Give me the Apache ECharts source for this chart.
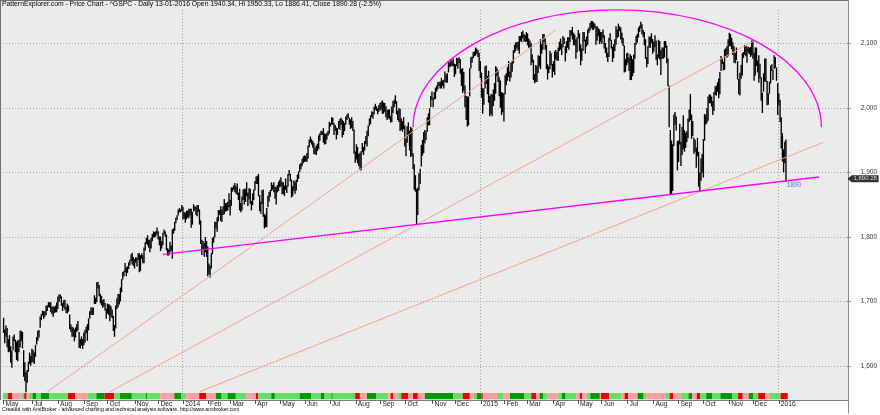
<!DOCTYPE html>
<html><head><meta charset="utf-8">
<script src="https://cdn.jsdelivr.net/npm/echarts@6/dist/echarts.min.js"></script>
<style>html,body{margin:0;padding:0;background:#fff}#c{width:880px;height:415px}</style>
</head><body><div id="c"></div>
<script>
// ---------------- DATA ----------------
const titleText = 'PatternExplorer.com - Price Chart - ^GSPC - Daily 13-01-2016 Open 1940.34, Hi 1950.33, Lo 1886.41, Close 1890.28 (-2.5%)';
const footerText = 'Created with AmiBroker - advanced charting and technical analysis software. http://www.amibroker.com';
const startDate = '2013-05-28';
const holidays = ['2013-07-04','2013-09-02','2013-11-28','2013-12-25','2014-01-01','2014-01-20','2014-02-17','2014-04-18','2014-05-26','2014-07-04','2014-09-01','2014-11-27','2014-12-25','2015-01-01','2015-01-19','2015-02-16','2015-04-03','2015-05-25','2015-07-03','2015-09-07','2015-11-26','2015-12-25','2016-01-01'];
const monthNames = ['Jan','Feb','Mar','Apr','May','Jun','Jul','Aug','Sep','Oct','Nov','Dec'];
const yMin = 1600, yMax = 2100, yStep = 100;
const blankBars = 51;

const highs2013 = [1674,1656,1662,1658,
1641,1647,1630,1623,1645,1648,1640,1637,1639,1640,1654,1654,1652,1624,1605,1590,1593,1606,1620,1615,
1626,1624,1620,1632,1644,1654,1655,1676,1680,1685,1684,1684,1693,1693,1698,1698,1698,1691,1692,1691,1693,1698,
1707,1710,1710,1707,1697,1701,1702,1691,1696,1693,1679,1664,1660,1659,1656,1659,1664,1669,1652,1641,1645,1641,
1651,1655,1660,1664,1673,1684,1690,1690,1690,1709,1705,1729,1730,1725,1711,1708,1701,1703,1697,1688,
1696,1695,1694,1692,1687,1677,1663,1693,1704,1711,1711,1721,1734,1745,1747,1759,1752,1754,1760,1764,1772,1775,1768,
1765,1768,1767,1774,1774,1771,1774,1771,1783,1791,1798,1802,1795,1795,1798,1804,1808,1807,1808,1814,
1808,1800,1800,1793,1806,1811,1808,1803,1782,1780,1792,1787,1811,1813,1823,1829,1833,1842,1844,1842,1849];
const lows2013 = [1652,1636,1646,1630,
1622,1623,1606,1598,1625,1639,1622,1610,1608,1622,1630,1639,1628,1584,1577,1560,1575,1592,1604,1601,
1606,1607,1604,1615,1634,1640,1645,1660,1672,1679,1674,1677,1680,1686,1692,1691,1684,1681,1677,1683,1684,1684,
1689,1700,1705,1694,1686,1691,1688,1683,1682,1685,1658,1654,1646,1646,1639,1645,1654,1656,1629,1628,1632,1627,
1633,1637,1652,1640,1656,1674,1680,1680,1680,1697,1697,1700,1721,1709,1698,1695,1691,1693,1687,1674,
1682,1680,1670,1677,1675,1655,1646,1659,1689,1692,1696,1701,1715,1735,1740,1746,1740,1745,1751,1757,1763,1758,1756,
1752,1761,1755,1765,1746,1748,1767,1760,1760,1780,1790,1788,1784,1777,1783,1794,1800,1800,1802,1805,
1797,1788,1779,1783,1788,1805,1801,1780,1772,1772,1777,1779,1767,1806,1810,1822,1827,1834,1839,1839,1841];

const highs2014 = [1846,1838,1837,1840,1840,1843,1843,1843,1838,1850,1847,1846,1849,1849,1842,1825,1795,1793,1790,1799,1793,
1785,1758,1755,1774,1798,1800,1823,1823,1830,1841,1841,1847,1842,1847,1858,1852,1852,1854,1867,
1857,1876,1876,1879,1883,1878,1882,1868,1874,1852,1862,1873,1874,1874,1884,1868,1875,1874,1855,1867,1873,
1886,1893,1894,1897,1864,1854,1872,1873,1835,1834,1844,1863,1869,1872,1884,1880,1884,1877,1877,1880,1885,
1888,1892,1885,1884,1879,1890,1879,1897,1903,1897,1888,1878,1887,1885,1888,1896,1901,1912,1914,1920,1924,
1926,1925,1929,1941,1950,1955,1951,1948,1945,1938,1941,1944,1957,1960,1964,1963,1968,1960,1959,1961,1964,
1978,1976,1985,1984,1976,1973,1969,1968,1979,1982,1984,1981,1979,1976,1986,1989,1991,1984,1982,1985,1979,1966,
1932,1943,1939,1928,1930,1932,1945,1939,1948,1956,1964,1972,1983,1988,1994,1993,2001,2006,2002,1999,2004,
2007,2009,2011,2008,2007,2002,1996,1997,1997,1987,2002,2010,2012,2019,2010,1995,1999,1998,1983,1979,1985,
1972,1952,1971,1977,1964,1970,1968,1929,1912,1895,1874,1876,1898,1905,1942,1950,1962,1965,1964,1985,1991,1999,2018,
2025,2015,2024,2031,2034,2039,2040,2040,2046,2042,2043,2056,2051,2053,2071,2070,2075,2073,2076,
2068,2067,2077,2076,2078,2075,2060,2061,2055,2034,2018,2017,2017,2061,2078,2079,2086,2087,2093,2091,2089,2085];
const lows2014 = [1828,1829,1823,1828,1831,1830,1834,1815,1820,1840,1842,1835,1833,1840,1820,1790,1773,1782,1770,1777,1770,
1740,1743,1738,1752,1774,1792,1800,1814,1809,1825,1835,1826,1824,1835,1836,1840,1841,1842,1847,
1834,1849,1871,1874,1870,1868,1866,1858,1842,1839,1842,1858,1851,1855,1864,1849,1859,1852,1842,1850,1858,
1873,1883,1883,1864,1841,1837,1852,1832,1814,1816,1816,1847,1856,1863,1872,1874,1870,1860,1851,1870,1872,
1878,1879,1867,1867,1864,1874,1869,1879,1896,1887,1862,1864,1872,1868,1873,1886,1891,1902,1906,1911,1915,
1917,1918,1917,1922,1940,1947,1944,1939,1929,1929,1928,1934,1937,1950,1959,1959,1947,1944,1945,1952,1958,
1961,1972,1975,1975,1959,1965,1952,1959,1969,1967,1975,1955,1959,1965,1975,1982,1985,1975,1968,1970,1965,1930,
1916,1921,1915,1911,1905,1904,1932,1928,1935,1945,1941,1957,1973,1976,1987,1984,1991,1998,1996,1991,1995,
1997,1998,1992,1992,1995,1986,1982,1985,1983,1978,1979,1993,2002,2007,1991,1982,1979,1965,1967,1964,1968,
1941,1926,1947,1958,1935,1925,1926,1906,1874,1871,1821,1835,1873,1883,1910,1927,1931,1946,1951,1964,1974,1974,2002,
2013,2002,2014,2015,2026,2030,2035,2031,2031,2035,2031,2041,2040,2040,2056,2064,2065,2066,2065,
2049,2053,2066,2062,2070,2054,2035,2024,2027,2002,1982,1972,1974,2019,2062,2071,2078,2081,2082,2085,2080,2058];

const highs2015 = [2072,2054,2030,2030,2064,2065,2049,2057,2018,2021,2020,2028,2038,2064,2062,2058,2047,2042,2024,2023,
2022,2050,2053,2063,2072,2056,2070,2073,2089,2097,2101,2101,2102,2111,2111,2117,2119,2114,2112,
2117,2115,2107,2104,2100,2082,2074,2052,2066,2064,2081,2080,2106,2098,2114,2114,2107,2097,2067,2064,2088,2084,
2068,2072,2087,2089,2086,2093,2102,2107,2098,2111,2108,2095,2103,2109,2109,2120,2120,2125,2116,2113,2106,
2109,2120,2115,2098,2092,2117,2117,2105,2110,2121,2124,2131,2134,2134,2132,2130,2126,2126,2123,2121,
2117,2117,2121,2112,2100,2093,2085,2108,2115,2105,2094,2098,2106,2126,2121,2130,2126,2124,2116,2108,2096,2075,
2084,2085,2078,2083,2080,2075,2082,2100,2111,2114,2124,2127,2133,2129,2120,2117,2106,2078,2095,2110,2110,2115,
2106,2102,2112,2104,2082,2105,2103,2089,2093,2093,2103,2103,2096,2076,2034,1965,1949,1943,1989,1993,1986,
1948,1949,1975,1947,1970,1988,1965,1961,1963,1983,1997,2021,1989,1979,1953,1950,1938,1953,1931,1899,1921,
1928,1951,1990,1989,1999,2017,2020,2020,2017,2010,2024,2033,2034,2039,2045,2055,2080,2076,2071,2090,2092,2095,
2106,2116,2114,2108,2101,2095,2084,2093,2072,2044,2054,2066,2084,2086,2097,2096,2094,2094,2093,2094,
2104,2104,2085,2093,2093,2073,2081,2068,2047,2023,2053,2076,2076,2041,2022,2040,2065,2067,2058,2081,2078,2062];
const lows2015 = [2047,2017,1992,2006,2031,2038,2022,2009,1988,1991,1988,2004,2012,2023,2050,2041,2019,2001,1990,1994,
1980,2022,2036,2043,2049,2042,2048,2057,2070,2086,2089,2093,2090,2085,2104,2103,2109,2104,2103,
2104,2098,2094,2095,2067,2071,2044,2039,2041,2041,2055,2065,2061,2085,2091,2103,2091,2061,2045,2055,2061,2067,
2048,2057,2052,2076,2074,2074,2089,2091,2083,2095,2100,2073,2086,2094,2091,2103,2113,2107,2098,2098,2077,
2087,2109,2089,2067,2074,2089,2104,2085,2096,2099,2117,2121,2125,2122,2122,2125,2099,2105,2112,2100,
2103,2100,2109,2093,2086,2079,2072,2080,2105,2093,2072,2078,2089,2099,2109,2111,2120,2107,2101,2097,2056,2057,
2067,2071,2058,2044,2044,2050,2055,2077,2099,2102,2110,2119,2124,2115,2111,2098,2077,2064,2069,2094,2094,2102,
2085,2088,2095,2075,2067,2078,2076,2052,2077,2077,2079,2094,2070,2035,1971,1867,1867,1872,1942,1975,1966,
1904,1917,1944,1911,1928,1937,1933,1939,1948,1954,1979,1982,1953,1957,1930,1933,1908,1926,1879,1872,1888,
1900,1893,1950,1975,1977,1981,2008,2008,2003,1990,1996,2021,2020,2026,2016,2022,2058,2069,2059,2060,2080,2079,
2081,2097,2096,2092,2083,2071,2070,2075,2045,2022,2020,2046,2051,2078,2083,2081,2071,2086,2084,2080,
2082,2077,2043,2051,2066,2056,2040,2047,2012,1993,2026,2042,2041,2005,2006,2023,2039,2058,2044,2061,2063,2043];

const highs2016 = [2038,2022,2012,1985,1960,1935,1947,1950.33];
const lows2016 = [1990,2005,1979,1938,1918,1901,1915,1886.41];
const lastClose = 1890.28;
const lastLowLabel = '1890';

// indicator strip: [end index (exclusive), state]  G=strong up, g=up, r=down, R=strong down
const stripRuns = [[4,'g'],[8,'R'],[16,'r'],[18,'g'],[20,'R'],[22,'r'],[25,'g'],[28,'G'],[32,'g'],[39,'G'],[55,'g'],[61,'R'],[72,'r'],[79,'g'],[86,'G'],[94,'R'],[99,'g'],[109,'G'],[121,'g'],[122,'G'],[133,'g'],[145,'r'],[151,'G'],[155,'g'],[166,'r'],[172,'R'],[180,'r'],[185,'G'],[190,'g'],[197,'G'],[206,'g'],[214,'r'],[216,'R'],[227,'g'],[230,'G'],[251,'g'],[261,'G'],[269,'g'],[272,'G'],[278,'g'],[279,'G'],[298,'g'],[302,'R'],[308,'r'],[316,'G'],[326,'g'],[328,'r'],[330,'R'],[334,'r'],[337,'g'],[343,'R'],[347,'r'],[351,'R'],[357,'r'],[381,'G'],[389,'g'],[395,'R'],[398,'r'],[401,'g'],[405,'G'],[406,'R'],[418,'r'],[423,'g'],[429,'r'],[441,'G'],[447,'g'],[451,'R'],[454,'r'],[457,'G'],[461,'g'],[470,'r'],[473,'g'],[476,'G'],[485,'g'],[488,'r'],[490,'R'],[494,'r'],[497,'g'],[505,'G'],[506,'r'],[513,'R'],[523,'g'],[526,'r'],[529,'R'],[537,'r'],[542,'G'],[544,'g'],[561,'r'],[564,'g'],[567,'R'],[574,'r'],[580,'g'],[583,'G'],[587,'r'],[590,'R'],[595,'g'],[600,'G'],[607,'g'],[617,'G'],[622,'g'],[626,'R'],[631,'r'],[635,'G'],[639,'g'],[645,'R'],[649,'r'],[658,'g'],[664,'R']];

// drawn studies, as [bar index, price] end points
const trendA = [[37,1560],[468,2121]];
const trendB = [[90,1560],[637,2105]];
const trendC = [[166,1560],[695,1947]];
const supportLine = [[135,1773],[691,1893]];
const arcLeft = [347,1970], arcTop = [520,2152], arcRight = [693,1970];

// ---------------- BUILD ----------------
const highs = [...highs2013, ...highs2014, ...highs2015, ...highs2016];
const lows = [...lows2013, ...lows2014, ...lows2015, ...lows2016];
const N = highs.length;

function tradingDays(start, n) {
  const out = []; const d = new Date(start + 'T00:00:00Z');
  while (out.length < n) {
    const wd = d.getUTCDay(); const s = d.toISOString().slice(0, 10);
    if (wd !== 0 && wd !== 6 && holidays.indexOf(s) < 0) out.push(s);
    d.setUTCDate(d.getUTCDate() + 1);
  }
  return out;
}
const dates = tradingDays(startDate, N);
const cats = dates.slice();
for (let i = 0; i < blankBars; i++) cats.push('blank' + i);
let lastLabelIdx = -100;
const labels = cats.map((c, i) => {
  if (i >= N) return '';
  const m = +c.slice(5, 7);
  if (i === 0 || m !== +dates[i - 1].slice(5, 7)) {
    if (i - lastLabelIdx < 12) return '';   // too close to previous label (skipped, as in the source)
    lastLabelIdx = i;
    return m === 1 ? c.slice(0, 4) : monthNames[m - 1];
  }
  return '';
});
const yearStart = cats.map((c, i) => i > 0 && i < N && c.slice(0, 4) !== dates[i - 1].slice(0, 4));

const stripItems = []; let prev = 0;
stripRuns.forEach(([end, s]) => { stripItems.push([prev, end - 1, s]); prev = end; });
const stripColor = { G: '#009a00', g: '#66dd66', R: '#ee0000', r: '#ffa0a0' };

const FONT = 'Liberation Sans, Arial, sans-serif';
const fmt = v => String(v).replace(/\B(?=(\d{3})+(?!\d))/g, ',');

const chart = echarts.init(document.getElementById('c'), null, { renderer: 'canvas' });
const lineSeries = (data, color, w) => ({
  type: 'line', xAxisIndex: 0, yAxisIndex: 0, data, showSymbol: false, symbol: 'none', silent: true,
  lineStyle: { color, width: w }, z: 5, clip: false
});

chart.setOption({
  animation: false,
  backgroundColor: '#ffffff',
  textStyle: { fontFamily: FONT },
  title: [
    { text: titleText, left: 2, top: 1, padding: 0, textStyle: { fontSize: 6.8, fontWeight: 'normal', color: '#000', fontFamily: FONT } },
    { text: footerText, left: 2, top: 407.5, padding: 0, textStyle: { fontSize: 5.2, fontWeight: 'normal', color: '#000', fontFamily: FONT } }
  ],
  graphic: [
    { type: 'rect', z: -10, silent: true, shape: { x: 0, y: 0, width: 848, height: 400 }, style: { fill: '#ebebeb' } },
    { type: 'line', z: 10, silent: true, shape: { x1: 0, y1: 0.5, x2: 848, y2: 0.5 }, style: { stroke: '#707070', lineWidth: 1 } },
    { type: 'line', z: 10, silent: true, shape: { x1: 0.5, y1: 0, x2: 0.5, y2: 400 }, style: { stroke: '#707070', lineWidth: 1 } }
  ],
  grid: [
    { left: 3, right: 32, top: 43.5, bottom: 49 },
    { left: 3, right: 32, top: 393, bottom: 15 },
    { left: 3, right: 32, top: 10, bottom: 23 },
    { left: 3, right: 32, top: 0, bottom: 2 }
  ],
  xAxis: [
    { type: 'category', gridIndex: 0, data: cats, show: false, boundaryGap: true },
    { type: 'category', gridIndex: 1, data: cats, boundaryGap: true,
      axisLine: { show: true, lineStyle: { color: '#7a7a7a', width: 1 } },
      axisTick: { show: true, interval: i => !!labels[i], alignWithLabel: true, length: 4, lineStyle: { color: '#555' } },
      axisLabel: { show: true, interval: i => !!labels[i], formatter: (v, i) => labels[i], align: 'left', margin: 1,
        showMinLabel: true, hideOverlap: false,
        padding: [0, 0, 0, 2], fontSize: 6.7, color: '#222', fontFamily: FONT },
      splitLine: { show: false } },
    { type: 'category', gridIndex: 2, data: cats, boundaryGap: true,
      axisLine: { show: false }, axisTick: { show: false }, axisLabel: { show: false },
      splitLine: { show: true, interval: i => yearStart[i], lineStyle: { color: '#a0a0a0', type: [1, 2], width: 1 } } },
    { type: 'category', gridIndex: 3, data: cats, show: false }
  ],
  yAxis: [
    { type: 'value', gridIndex: 0, position: 'right', min: yMin, max: yMax, interval: yStep,
      axisLine: { show: false },
      axisTick: { show: true, length: 4, lineStyle: { color: '#8a8a8a' } },
      axisLabel: { show: true, margin: 14, fontSize: 6.5, color: '#333', formatter: v => fmt(v), fontFamily: FONT },
      splitLine: { show: true, lineStyle: { color: '#a8a8a8', type: [1, 2], width: 1 } } },
    { type: 'value', gridIndex: 1, min: 0, max: 1, show: false },
    { type: 'value', gridIndex: 2, min: 0, max: 1, show: false },
    { type: 'value', gridIndex: 3, min: 0, max: 1, position: 'right',
      axisLine: { show: true, lineStyle: { color: '#8a8a8a' } }, axisTick: { show: false }, axisLabel: { show: false }, splitLine: { show: false } }
  ],
  series: [
    { type: 'custom', xAxisIndex: 0, yAxisIndex: 0, silent: true, z: 3, clip: false,
      data: highs.map((h, i) => [i, lows[i], h]),
      encode: { x: 0, y: [1, 2] },
      renderItem: (params, api) => {
        const i = api.value(0);
        const lo = api.coord([i, api.value(1)]), hi = api.coord([i, api.value(2)]);
        return { type: 'line', shape: { x1: lo[0], y1: lo[1] + 0.5, x2: hi[0], y2: hi[1] - 0.5 }, style: { stroke: '#000', lineWidth: 1.35 } };
      } },
    { type: 'custom', xAxisIndex: 1, yAxisIndex: 1, silent: true, z: 3,
      data: stripItems,
      encode: { x: [0, 1] },
      renderItem: (params, api) => {
        const a = api.coord([api.value(0), 1]), b = api.coord([api.value(1), 0.12]);
        const bw = api.size([1, 0])[0];
        const s = stripItems[params.dataIndex][2];
        return { type: 'rect', shape: { x: a[0] - bw / 2, y: a[1], width: b[0] - a[0] + bw, height: b[1] - a[1] }, style: { fill: stripColor[s] } };
      } },
    lineSeries(trendA, '#f2a68c', 1),
    lineSeries(trendB, '#f2a68c', 1),
    lineSeries(trendC, '#f2a68c', 1),
    lineSeries(supportLine, '#ff00ff', 1.3),
    { type: 'custom', xAxisIndex: 0, yAxisIndex: 0, silent: true, z: 6, clip: false,
      data: [[arcLeft[0], arcLeft[1]]],
      renderItem: (params, api) => {
        const L = api.coord(arcLeft), T = api.coord(arcTop), R = api.coord(arcRight);
        const k = 0.5523, cy = L[1], ry = L[1] - T[1];
        const p = 'M' + L[0] + ' ' + L[1] +
          ' C' + L[0] + ' ' + (cy - k * ry) + ' ' + (T[0] - k * (T[0] - L[0])) + ' ' + T[1] + ' ' + T[0] + ' ' + T[1] +
          ' C' + (T[0] + k * (R[0] - T[0])) + ' ' + T[1] + ' ' + R[0] + ' ' + (R[1] - k * ry) + ' ' + R[0] + ' ' + R[1];
        return { type: 'path', shape: { pathData: p }, style: { stroke: '#ff00ff', fill: 'none', lineWidth: 1.3 } };
      } },
    { type: 'scatter', xAxisIndex: 0, yAxisIndex: 0, silent: true, z: 8, clip: false,
      data: [[cats.length - 1, lastClose]],
      symbol: 'path://M0,4 L4,0 L31,0 L31,8 L4,8 Z', symbolSize: [31, 7], symbolOffset: [17, 0],
      itemStyle: { color: '#000' },
      label: { show: true, position: 'inside', offset: [2, 0], formatter: () => fmt(lastClose.toFixed(2)), color: '#fff', fontSize: 6, fontFamily: FONT } },
    { type: 'scatter', xAxisIndex: 0, yAxisIndex: 0, silent: true, z: 8, clip: false,
      data: [[N - 1, lows[N - 1]]],
      symbolSize: 1, itemStyle: { color: 'rgba(0,0,0,0)' },
      label: { show: true, position: 'inside', offset: [8, 4], formatter: () => lastLowLabel, color: '#3f5fcf', fontSize: 6.6, fontFamily: FONT } }
  ]
});
</script></body></html>
